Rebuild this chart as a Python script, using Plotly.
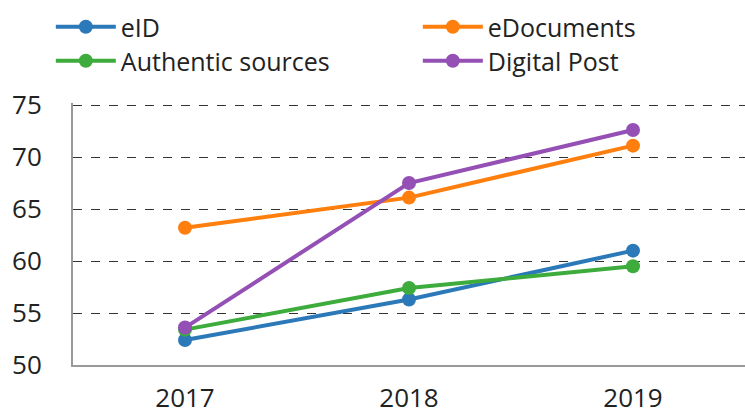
import plotly.graph_objects as go

years = ["2017", "2018", "2019"]
series_names = ["eID", "eDocuments", "Authentic sources", "Digital Post"]
eid = [52.4, 56.3, 61.0]
edocuments = [63.2, 66.1, 71.1]
authentic_sources = [53.4, 57.4, 59.5]
digital_post = [53.6, 67.5, 72.6]
y_ticks = [50, 55, 60, 65, 70, 75]

colors = ["#2b79b8", "#ff7f0e", "#3dac3d", "#9450b4"]
values = [eid, edocuments, authentic_sources, digital_post]
legend_ids = ["legend", "legend", "legend2", "legend2"]

fig = go.Figure()
for name, vals, c, lg in zip(series_names, values, colors, legend_ids):
    fig.add_trace(go.Scatter(
        x=years, y=vals, name=name, mode="lines+markers",
        line=dict(color=c, width=4),
        marker=dict(color=c, size=14),
        legend=lg,
    ))

font = "Open Sans, sans-serif"
leg_common = dict(
    orientation="h", x=-0.033, xref="paper", yref="paper",
    xanchor="left", yanchor="middle",
    font=dict(family=font, size=25, color="#222222"),
    entrywidth=292, entrywidthmode="pixels",
    traceorder="normal", tracegroupgap=0, itemwidth=60,
    bgcolor="rgba(0,0,0,0)",
)
fig.update_layout(
    width=745, height=416,
    margin=dict(l=73, r=0, t=103, b=51, autoexpand=False),
    paper_bgcolor="white", plot_bgcolor="white",
    font=dict(family=font, size=26, color="#222222"),
    showlegend=True,
    legend=dict(y=1 + (103 - 27) / 262, **leg_common),
    legend2=dict(y=1 + (103 - 61) / 262, **leg_common),
    xaxis=dict(
        type="category", range=[-0.5, 2.5],
        showgrid=False, showline=True, linecolor="#999999", linewidth=2,
        ticks="", ticklabelstandoff=9,
        tickfont=dict(family=font, size=26, color="#222222"),
    ),
    yaxis=dict(
        range=[50, 75.2], tickvals=y_ticks,
        showgrid=True, gridcolor="#333333", gridwidth=1, griddash="dash",
        showline=True, linecolor="#999999", linewidth=2,
        zeroline=False, ticks="", ticklabelstandoff=24,
        tickfont=dict(family=font, size=26, color="#222222"),
    ),
)

fig.write_html("out.html")
